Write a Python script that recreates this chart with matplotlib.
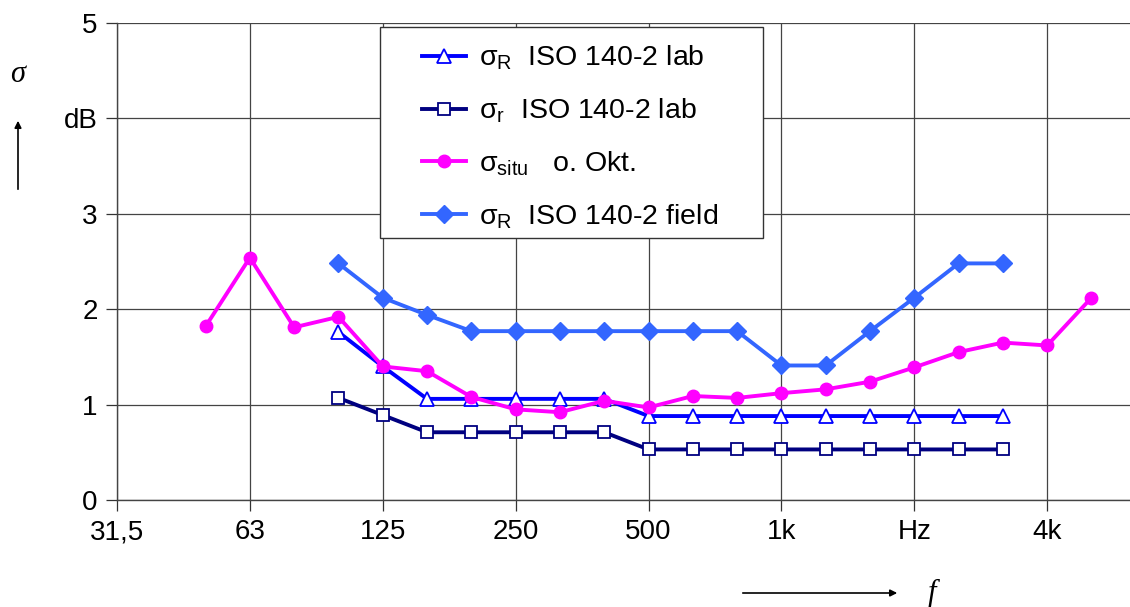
import numpy as np
import matplotlib
matplotlib.use("Agg")
import matplotlib.pyplot as plt
from matplotlib.patches import Rectangle, FancyArrowPatch

plt.rcParams['font.family'] = ['Liberation Sans', 'DejaVu Sans']
plt.rcParams['mathtext.fontset'] = 'custom'
plt.rcParams['mathtext.rm'] = 'Liberation Sans'
plt.rcParams['mathtext.it'] = 'Liberation Sans:italic'

# Terzbänder 31,5 Hz ... 5 kHz (Index-Achse)
baender = ["31,5", "40", "50", "63", "80", "100", "125", "160", "200", "250", "315",
           "400", "500", "630", "800", "1k", "1,25k", "1,6k", "2k", "2,5k", "3,15k", "4k", "5k"]
tick_idx = [0, 3, 6, 9, 12, 15, 18, 21]
tick_labels = ["31,5", "63", "125", "250", "500", "1k", "Hz", "4k"]

# sigma_R ISO 140-2 lab (100 Hz ... 3150 Hz)
idx_lab = list(range(5, 21))
sigma_R_lab = [1.76, 1.40, 1.06, 1.06, 1.06, 1.06, 1.06, 0.88, 0.88, 0.88, 0.88, 0.88, 0.88, 0.88, 0.88, 0.88]
# sigma_r ISO 140-2 lab
sigma_r_lab = [1.07, 0.89, 0.71, 0.71, 0.71, 0.71, 0.71, 0.53, 0.53, 0.53, 0.53, 0.53, 0.53, 0.53, 0.53, 0.53]
# sigma_situ o. Okt. (50 Hz ... 5 kHz)
idx_situ = list(range(2, 23))
sigma_situ = [1.82, 2.54, 1.81, 1.92, 1.40, 1.35, 1.08, 0.95, 0.92, 1.04, 0.97, 1.09, 1.07,
              1.12, 1.16, 1.24, 1.39, 1.55, 1.65, 1.62, 2.12]
# sigma_R ISO 140-2 field
sigma_R_field = [2.48, 2.12, 1.94, 1.77, 1.77, 1.77, 1.77, 1.77, 1.77, 1.77, 1.41, 1.41,
                 1.77, 2.12, 2.48, 2.48]

W, H = 1130, 607
fig = plt.figure(figsize=(W/100, H/100), dpi=100)
ax = fig.add_axes([117/W, 107/H, 1 - 117/W, (500 - 23)/H])

ax.plot(idx_lab, sigma_R_lab, color="#0000FF", lw=2.8, marker="^", ms=10,
        mfc="white", mec="#0000FF", mew=1.3, label=r"$\mathrm{σ_R}$  ISO 140-2 lab")
ax.plot(idx_lab, sigma_r_lab, color="#000080", lw=2.8, marker="s", ms=9,
        mfc="white", mec="#000080", mew=1.3, label=r"$\mathrm{σ_r}$  ISO 140-2 lab")
ax.plot(idx_situ, sigma_situ, color="#FF00FF", lw=2.8, marker="o", ms=9,
        label=r"$\mathrm{σ_{situ}}$   o. Okt.")
ax.plot(idx_lab, sigma_R_field, color="#3366FF", lw=2.8, marker="D", ms=9,
        label=r"$\mathrm{σ_R}$  ISO 140-2 field")

ax.set_xlim(0, 22.87)
ax.set_ylim(0, 5)
ax.set_xticks(tick_idx)
ax.set_xticklabels(tick_labels)
ax.set_yticks([0, 1, 2, 3, 4, 5])
ax.set_yticklabels(["0", "1", "2", "3", "dB", "5"])
ax.tick_params(labelsize=20, length=8, width=0.9, color="#333333", pad=6)
ax.grid(True, color="#444444", lw=0.9)
ax.set_axisbelow(True)
for s in ["top", "right"]:
    ax.spines[s].set_visible(False)
for s in ["left", "bottom"]:
    ax.spines[s].set_color("#444444")
    ax.spines[s].set_linewidth(1.0)

# Legendenrahmen separat (breiterer seitlicher Rand als oben/unten)
ax.add_patch(Rectangle((380/W, 1 - 238/H), (763 - 380)/W, (238 - 27)/H,
                       transform=fig.transFigure, facecolor="white",
                       edgecolor="#333333", lw=1.0, zorder=4, clip_on=False))
leg = ax.legend(loc="upper left", bbox_to_anchor=((422 - 117)/1013, (500 - 44)/477),
                fontsize=20.5, frameon=False, handlelength=1.55, handletextpad=0.45,
                borderpad=0, labelspacing=0.85, borderaxespad=0)
leg.set_zorder(5)

# Achsenbeschriftungen mit Pfeilen
fig.text(18/W, 1 - 75/H, "σ", fontsize=22, style="italic", family="Liberation Serif",
         ha="center", va="center")
fig.add_artist(FancyArrowPatch((18/W, 1 - 192/H), (18/W, 1 - 118/H),
               transform=fig.transFigure, arrowstyle="-|>", mutation_scale=10, lw=1.2, color="black"))
fig.add_artist(FancyArrowPatch((740/W, 1 - 593/H), (900/W, 1 - 593/H),
               transform=fig.transFigure, arrowstyle="-|>", mutation_scale=10, lw=1.2, color="black"))
fig.text(932/W, 1 - 593/H, "f", fontsize=22, style="italic", family="Liberation Serif",
         ha="center", va="center")

fig.savefig("out.png", dpi=100)
